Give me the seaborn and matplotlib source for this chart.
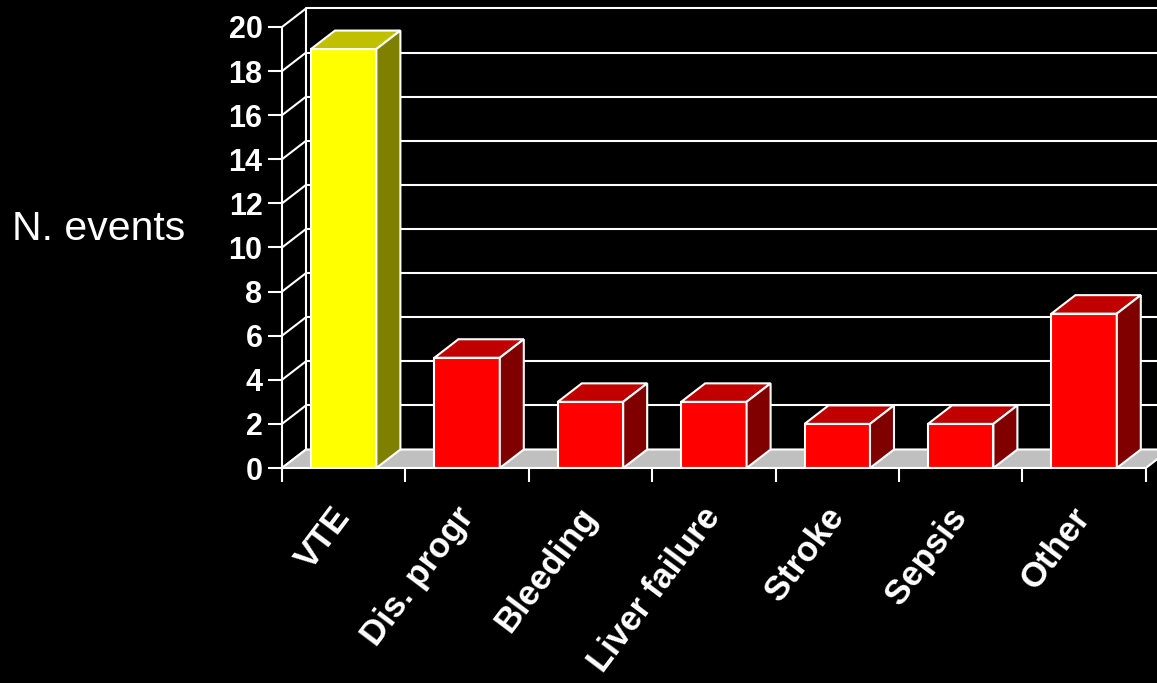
import matplotlib
matplotlib.use("Agg")
import matplotlib.pyplot as plt
from matplotlib.patches import Polygon
import seaborn as sns

categories = ["VTE", "Dis. progr", "Bleeding", "Liver failure", "Stroke", "Sepsis", "Other"]
values = [19, 5, 3, 3, 2, 2, 7]
front_colors = ["#FFFF00", "#FF0000", "#FF0000", "#FF0000", "#FF0000", "#FF0000", "#FF0000"]
top_colors = ["#C0C000", "#C00000", "#C00000", "#C00000", "#C00000", "#C00000", "#C00000"]
side_colors = ["#808000", "#800000", "#800000", "#800000", "#800000", "#800000", "#800000"]
y_ticks = list(range(0, 21, 2))
y_label = "N. events"

sns.set_theme(style="dark")
plt.rcParams["font.family"] = ["Liberation Sans", "DejaVu Sans"]

W, H = 1157, 683
fig = plt.figure(figsize=(W / 100, H / 100), dpi=100, facecolor="black")
ax0_px, ax_bottom_px = 282, 468
ax = fig.add_axes([ax0_px / W, (H - ax_bottom_px) / H, (W - ax0_px) / W, ax_bottom_px / H])
ax.set_facecolor("black")

n = len(categories)
px_per_cat = 123.4
px_per_unit = 22.05
DX = 24 / px_per_cat      # depth offset in category units
DY = 18.5 / px_per_unit   # depth offset in value units
LW = 1.5

sns.barplot(x=categories, y=values, hue=categories, palette=front_colors, legend=False,
            width=0.53, edgecolor="white", linewidth=LW, ax=ax, zorder=3, saturation=1)
bars = list(ax.patches)

x_left, x_right = -0.5, n - 0.5
ax.set_xlim(x_left, x_left + (W - ax0_px) / px_per_cat)
ax.set_ylim(0, ax_bottom_px / px_per_unit)

# back wall gridlines + left wall diagonals
xmax_vis = x_right + DX + 1
for v in y_ticks:
    ax.plot([x_left + DX, xmax_vis], [v + DY, v + DY], color="white", lw=LW, zorder=1,
            solid_capstyle="butt")
    ax.plot([x_left, x_left + DX], [v, v + DY], color="white", lw=LW, zorder=1)
ax.plot([x_left + DX, x_left + DX], [DY, y_ticks[-1] + DY], color="white", lw=LW, zorder=1)

# floor
floor = Polygon([(x_left, 0), (x_right, 0), (x_right + DX, DY), (x_left + DX, DY)],
                closed=True, facecolor="#C0C0C0", edgecolor="white", lw=LW, zorder=1.5)
ax.add_patch(floor)

# 3D faces for bars
for i, p in enumerate(bars):
    x0 = p.get_x()
    w = p.get_width()
    h = p.get_height()
    x1 = x0 + w
    top = Polygon([(x0, h), (x1, h), (x1 + DX, h + DY), (x0 + DX, h + DY)], closed=True,
                  facecolor=top_colors[i], edgecolor="white", lw=LW, zorder=3)
    side = Polygon([(x1, 0), (x1 + DX, DY), (x1 + DX, h + DY), (x1, h)], closed=True,
                   facecolor=side_colors[i], edgecolor="white", lw=LW, zorder=3)
    ax.add_patch(top)
    ax.add_patch(side)

# axes spines
for s in ["top", "right"]:
    ax.spines[s].set_visible(False)
ax.spines["left"].set_color("white")
ax.spines["left"].set_linewidth(LW)
ax.spines["left"].set_bounds(0, y_ticks[-1])
ax.spines["bottom"].set_color("white")
ax.spines["bottom"].set_linewidth(LW)
ax.spines["bottom"].set_bounds(x_left, x_right)
ax.spines["left"].set_zorder(4)
ax.spines["bottom"].set_zorder(4)
ax.grid(False)

ax.set_yticks(y_ticks)
ax.set_yticklabels([str(t) for t in y_ticks], fontsize=22, fontweight="bold", color="white")
ax.tick_params(axis="y", direction="out", length=10, width=LW, color="white", pad=4, left=True)

ax.set_xticks(range(n))
ax.set_xticklabels(categories, rotation=53, ha="right", va="center", rotation_mode="anchor",
                   fontsize=25, fontweight="bold", color="white")
ax.tick_params(axis="x", which="major", length=0, pad=31)
ax.set_xticks([x_left + k for k in range(n + 1)], minor=True)
ax.tick_params(axis="x", which="minor", direction="out", length=10, width=LW, color="white", bottom=True)
ax.set_xlabel("")
ax.set_ylabel("")

fig.text(12 / W, 1 - 229 / H, y_label, fontsize=29.5, color="white", ha="left", va="center")

fig.savefig("out.png", dpi=100, facecolor="black")
